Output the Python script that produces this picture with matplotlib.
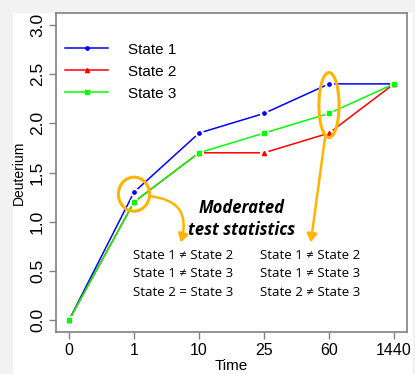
import matplotlib
matplotlib.use("Agg")
import matplotlib.pyplot as plt
from matplotlib.patches import Ellipse, Rectangle, FancyArrowPatch

time_labels = ["0", "1", "10", "25", "60", "1440"]
state1 = [0.0, 1.3, 1.9, 2.1, 2.4, 2.4]
state2 = [0.0, 1.2, 1.7, 1.7, 1.9, 2.4]
state3 = [0.0, 1.2, 1.7, 1.9, 2.1, 2.4]
series_names = ["State 1", "State 2", "State 3"]
left_tests = ["State 1 \u2260 State 2", "State 1 \u2260 State 3", "State 2 = State 3"]
right_tests = ["State 1 \u2260 State 2", "State 1 \u2260 State 3", "State 2 \u2260 State 3"]

W, H = 415, 374
fig = plt.figure(figsize=(W / 100, H / 100), dpi=100, facecolor="#f2f2f2")
fig.patches.append(Rectangle((13 / W, 0), (413 - 13) / W, (H - 13) / H,
                             transform=fig.transFigure, facecolor="white",
                             edgecolor="none", zorder=-10))

ax = fig.add_axes([56 / W, (H - 332) / H, (407 - 56) / W, (332 - 13) / H])
ax.set_facecolor("white")
x = list(range(len(time_labels)))

colors = ["#0000ff", "#ff0000", "#00ff00"]
markers = ["o", "^", "s"]
msizes = [2.4, 3.0, 3.0]
data = [state1, state2, state3]

for d, c, n in zip(data, colors, series_names):
    ax.plot(x, d, color=c, lw=1.1, zorder=2)
for d in data:
    ax.plot(x, d, ls="none", marker="o", ms=5.5, mfc="white", mec="white", zorder=3)
for d, c, m, s in zip(data, colors, markers, msizes):
    ax.plot(x, d, ls="none", marker=m, ms=s, mfc=c, mec=c, zorder=4)

handles = [plt.Line2D([], [], color=c, lw=1.1, marker=m, ms=s, mfc=c, mec=c)
           for c, m, s in zip(colors, markers, msizes)]
leg = ax.legend(handles, series_names, loc="upper left", frameon=False,
                handlelength=2.85, handletextpad=1.3,
                labelspacing=0.52, bbox_to_anchor=(-0.014, 0.95),
                prop={"family": "Liberation Sans", "size": 11})

ax.set_xlim(-0.2, 5.2)
ax.set_ylim(-0.12, 3.12)
ax.set_xticks(x)
ax.set_xticklabels(time_labels, fontsize=11.5, family="Liberation Sans")
ax.set_yticks([0, 0.5, 1.0, 1.5, 2.0, 2.5, 3.0])
ax.set_yticklabels(["0.0", "0.5", "1.0", "1.5", "2.0", "2.5", "3.0"],
                   fontsize=12.5, family="Liberation Sans", rotation=90, va="center")
ax.tick_params(direction="out", length=5, color="#808080", width=1, pad=3)
for sp in ax.spines.values():
    sp.set_color("#808080")
    sp.set_linewidth(1.2)

ax.set_xlabel("Time", fontsize=11, family="Liberation Sans", labelpad=1)
ax.set_ylabel("Deuterium", fontsize=10, family="Liberation Sans", labelpad=3)

orange = "#ffb400"
ax.add_patch(Ellipse((1.0, 1.28), 0.48, 0.345, fill=False, ec=orange, lw=2.2, zorder=5))
ax.add_patch(Ellipse((4.0, 2.185), 0.31, 0.66, fill=False, ec=orange, lw=2.2, zorder=5))
ax.add_patch(FancyArrowPatch((1.23, 1.26), (1.72, 0.79),
                             connectionstyle="arc3,rad=-0.6", arrowstyle="-|>,head_length=5,head_width=3",
                             color=orange, lw=1.8, zorder=5, shrinkA=0, shrinkB=0))
ax.add_patch(FancyArrowPatch((3.94, 1.86), (3.72, 0.79),
                             connectionstyle="arc3,rad=0.0", arrowstyle="-|>,head_length=5,head_width=3",
                             color=orange, lw=1.8, zorder=5, shrinkA=0, shrinkB=0))

ax.text(2.66, 1.14, "Moderated", ha="center", va="center", fontsize=12,
        fontweight="bold", fontstyle="italic", family="Open Sans")
ax.text(2.66, 0.915, "test statistics", ha="center", va="center", fontsize=12,
        fontweight="bold", fontstyle="italic", family="Open Sans")
ys = [0.66, 0.475, 0.285]
for yv, lt, rt in zip(ys, left_tests, right_tests):
    ax.text(0.985, yv, lt, ha="left", va="center", fontsize=9.5, family="Open Sans")
    ax.text(2.94, yv, rt, ha="left", va="center", fontsize=9.5, family="Open Sans")

fig.savefig("out.png", dpi=100, facecolor=fig.get_facecolor())
